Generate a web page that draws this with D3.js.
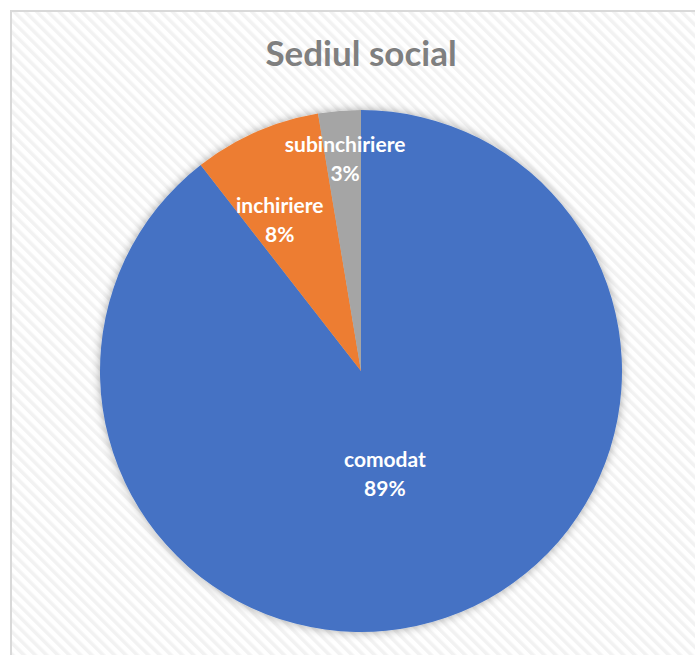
<!DOCTYPE html>
<html>
<head>
<meta charset="utf-8">
<script src="https://cdn.jsdelivr.net/npm/d3@7"></script>
<style>
  body { margin: 0; background: #fff; }
  svg { display: block; }
</style>
</head>
<body>
<div id="chart"></div>
<script>
// data
var categories = ["comodat", "inchiriere", "subinchiriere"];
var counts = [34, 3, 1];
var percentLabels = ["89%", "8%", "3%"];
var colors = ["#4472C4", "#ED7D31", "#A5A5A5"];

var width = 695, height = 655;
var cx = 361, cy = 371, radius = 261;

var svg = d3.select("#chart").append("svg")
  .attr("width", width)
  .attr("height", height);

var defs = svg.append("defs");

// striped chart area background
var pat = defs.append("pattern")
  .attr("id", "stripes")
  .attr("patternUnits", "userSpaceOnUse")
  .attr("width", 8)
  .attr("height", 8)
  .attr("patternTransform", "rotate(-45)");
pat.append("rect").attr("width", 8).attr("height", 8).attr("fill", "#ffffff");
pat.append("rect").attr("width", 3.5).attr("height", 8).attr("fill", "#f2f2f2");

var shadow = defs.append("filter")
  .attr("id", "shadow")
  .attr("x", "-20%").attr("y", "-20%")
  .attr("width", "140%").attr("height", "140%");
shadow.append("feDropShadow")
  .attr("dx", 0).attr("dy", 0)
  .attr("stdDeviation", 5)
  .attr("flood-color", "#000")
  .attr("flood-opacity", 0.35);

svg.append("rect")
  .attr("x", 11).attr("y", 11)
  .attr("width", width).attr("height", height)
  .attr("fill", "url(#stripes)")
  .attr("stroke", "#d9d9d9")
  .attr("stroke-width", 2);

svg.append("text")
  .attr("x", cx).attr("y", 66)
  .attr("text-anchor", "middle")
  .attr("font-family", "Lato, 'Open Sans', sans-serif")
  .attr("font-weight", "bold")
  .attr("font-size", 35)
  .attr("fill", "#7f7f7f")
  .text("Sediul social");

var data = categories.map(function(c, i) {
  return { name: c, value: counts[i], pct: percentLabels[i], color: colors[i] };
});

var pie = d3.pie()
  .sort(null)
  .value(function(d) { return d.value; });

var arcs = pie(data);

var arc = d3.arc().innerRadius(0).outerRadius(radius);

var g = svg.append("g")
  .attr("transform", "translate(" + cx + "," + cy + ")");

g.append("g")
  .attr("filter", "url(#shadow)")
  .selectAll("path")
  .data(arcs)
  .enter()
  .append("path")
  .attr("d", arc)
  .attr("fill", function(d) { return d.data.color; });

// label distance from centre, as a fraction of radius (best fit style)
var labelFrac = [0.40, 0.67, 0.83];
var labelNudgeX = [-10, -11, 2];
var labelNudgeY = [0, 5, 0];

var labels = g.selectAll(".lbl")
  .data(arcs)
  .enter()
  .append("text")
  .attr("class", "lbl")
  .attr("transform", function(d, i) {
    var r = radius * labelFrac[i];
    var c = d3.arc().innerRadius(r).outerRadius(r).centroid(d);
    return "translate(" + (c[0] + labelNudgeX[i]) + "," + (c[1] + labelNudgeY[i]) + ")";
  })
  .attr("text-anchor", "middle")
  .attr("font-family", "Lato, 'Open Sans', sans-serif")
  .attr("font-weight", "bold")
  .attr("font-size", 21)
  .attr("fill", "#fff");

labels.append("tspan")
  .attr("x", 0).attr("y", -3)
  .text(function(d) { return d.data.name; });
labels.append("tspan")
  .attr("x", 0).attr("y", 26)
  .text(function(d) { return d.data.pct; });
</script>
</body>
</html>
